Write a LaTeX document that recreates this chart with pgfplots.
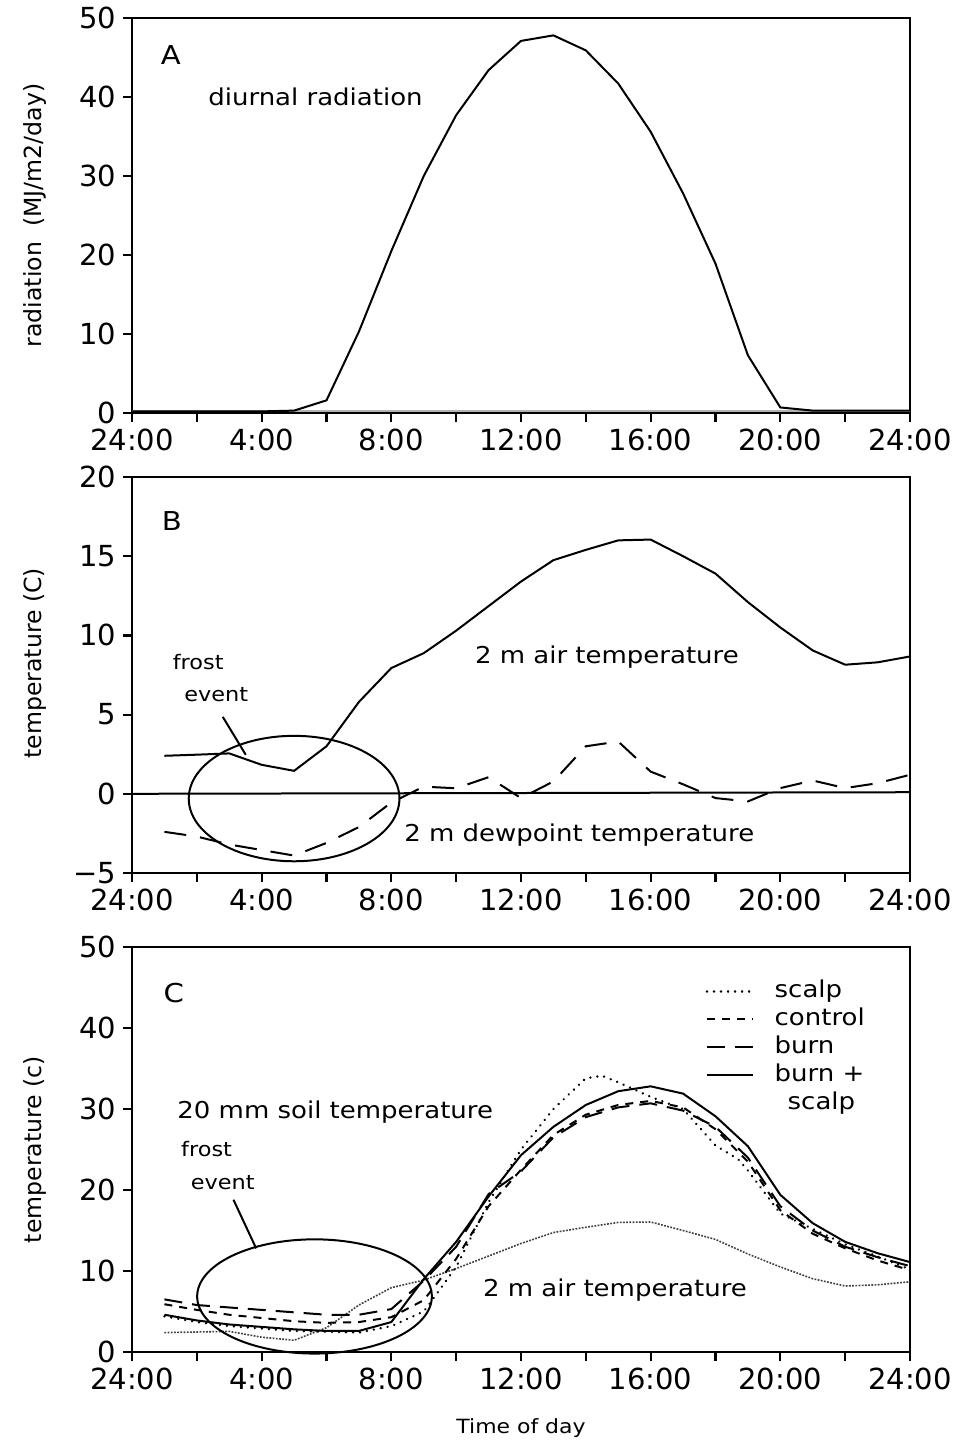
\documentclass[border=0pt]{standalone}
\usepackage{fontspec}
\setmainfont{DejaVu Sans}
\newfontfamily\lab[FakeStretch=1.12]{DejaVu Sans}
\usepackage{pgfplots}
\pgfplotsset{compat=1.18}
\newcommand\lf[1]{\lab\fontsize{#1}{#1}\selectfont}
\begin{document}
\begin{tikzpicture}
\useasboundingbox (-66pt,0pt) rectangle (410pt,-721.5pt);
\pgfplotsset{
 every axis/.append style={
  scale only axis, width=389pt,
  axis line style={line width=1.2pt},
  tick align=outside, tick pos=left,
  major tick length=4.5pt, minor tick length=4.5pt,
  every tick/.style={line width=1.1pt, black},
  xmin=0, xmax=24,
  xtick={0,4,...,24}, minor xtick={2,6,...,22},
  xticklabels={24:00,4:00,8:00,12:00,16:00,20:00,24:00},
  tick label style={font=\fontsize{14.5}{16}\selectfont},
  /pgf/number format/assume math mode=true,
  every axis y label/.style={at={(axis description cs:0,0.5)}, xshift=-48.5pt, rotate=90, anchor=center, font=\fontsize{11.8}{14}\selectfont},
  clip=false,
 },
}
% ---------------- A
\begin{axis}[anchor=north west, at={(0pt,-9pt)}, height=197.5pt,
  ymin=0, ymax=50, ytick={0,10,...,50},
  ylabel={radiation\ \ (MJ/m2/day)}]
\addplot[gray!60, line width=0.8pt] coordinates {(0,0.25) (24,0.25)};
\addplot[black, line width=1pt] coordinates {
(0,0.2) (1,0.2) (2,0.2) (3,0.2) (4,0.2) (5,0.3) (6,1.6) (7,10.3) (8,20.5) (9,30) (10,37.7) (11,43.4) (12,47.1) (13,47.8) (14,45.9) (15,41.7) (16,35.6) (17,27.8) (18,18.9) (19,7.3) (20,0.7) (21,0.3) (22,0.3) (23,0.3) (24,0.3)};
\node[font=\lf{13}] at (axis cs:1.2,45.3) {A};
\node[font=\lf{11.6}] at (axis cs:5.66,40) {diurnal radiation};
\end{axis}
% ---------------- B
\begin{axis}[anchor=north west, at={(0pt,-238.5pt)}, height=198pt,
  ymin=-5, ymax=20, ytick={-5,0,...,20}, yticklabels={−5,0,5,10,15,20},
  ylabel={temperature (C)},
  every axis y label/.append style={at={(axis description cs:0,0.53)}}]
\addplot[black, line width=1pt] coordinates {(0,0) (24,0.1)};
\addplot[black, line width=1pt] coordinates {
(1,2.4) (2,2.47) (3,2.55) (4,1.83) (5,1.45) (6,3.0) (7,5.8) (8,7.94) (9,8.88) (10,10.3) (11,11.85) (12,13.4) (13,14.75) (14,15.4) (15,16.0) (16,16.05) (17,15.0) (18,13.9) (19,12.1) (20,10.5) (21,9.05) (22,8.15) (23,8.3) (24,8.67)};
\addplot[black, line width=1pt, dash pattern=on 11pt off 7pt] coordinates {
(1,-2.4) (2,-2.7) (3,-3.2) (4,-3.55) (5,-3.9) (6,-3.1) (7,-2.1) (8,-0.55) (9,0.45) (10,0.35) (11,1.05) (12,-0.27) (13,0.78) (14,3.0) (15,3.3) (16,1.4) (17,0.6) (18,-0.27) (19,-0.48) (20,0.36) (21,0.84) (22,0.36) (23,0.67) (24,1.2)};
\draw[line width=1pt] (axis cs:5,-0.3) ellipse [x radius=3.25, y radius=3.96];
\draw[line width=1pt] (axis cs:2.8,4.86) -- (axis cs:3.51,2.46);
\node[font=\lf{13}] at (axis cs:1.23,17.2) {B};
\node[font=\lf{10}] at (axis cs:2.04,8.33) {frost};
\node[font=\lf{10}] at (axis cs:2.6,6.25) {event};
\node[font=\lf{11.6}] at (axis cs:14.65,8.65) {2 m air temperature};
\node[font=\lf{11.6}] at (axis cs:13.8,-2.6) {2 m dewpoint temperature};
\end{axis}
% ---------------- C
\begin{axis}[anchor=north west, at={(0pt,-473.5pt)}, height=202.5pt,
  ymin=0, ymax=50, ytick={0,10,...,50},
  ylabel={temperature (c)},
  xlabel={Time of day},
  every axis x label/.style={at={(axis description cs:0.5,0)}, yshift=-38pt, anchor=center, font=\lf{9.8}},
  legend style={draw=none, fill=none, at={(axis cs:17.5,46.8)}, anchor=north west,
    font=\lf{11.6}, nodes={inner sep=1.2pt, text height=8.8pt, text depth=2.8pt},
    /tikz/every odd column/.append style={column sep=9pt}},
  legend cell align=left,
  legend image code/.code={\draw[#1] (0pt,0pt) -- (23pt,0pt);}]
\addplot[black!75, line width=0.8pt, dash pattern=on 0.9pt off 0.7pt, forget plot] coordinates {
(1,2.4) (2,2.47) (3,2.55) (4,1.83) (5,1.45) (6,3.0) (7,5.8) (8,7.94) (9,8.88) (10,10.3) (11,11.85) (12,13.4) (13,14.75) (14,15.4) (15,16.0) (16,16.05) (17,15.0) (18,13.9) (19,12.1) (20,10.5) (21,9.05) (22,8.15) (23,8.3) (24,8.67)};
\addplot[black, line width=1.3pt, line cap=round, dash pattern=on 0.01pt off 3.5pt] coordinates {
(1,4.4) (2,3.7) (3,3.2) (4,2.9) (5,2.6) (6,2.5) (7,2.4) (8,3.2) (9,5.0) (10,10.5) (11,18.5) (12,25.0) (13,30.0) (14,33.8) (14.5,34.1) (15,33.3) (16,31.5) (17,30.0) (18,25.5) (18.7,23.8) (19,22.4) (20,17.1) (21,15.2) (22,13.3) (23,11.8) (24,10.2)};
\addlegendentry{scalp}
\addplot[black, line width=1pt, dash pattern=on 4pt off 3.5pt] coordinates {
(1,5.9) (2,5.2) (3,4.6) (4,4.2) (5,3.8) (6,3.6) (7,3.7) (8,4.3) (9,6.4) (10,11.5) (11,18) (12,22.5) (13,26.8) (14,29.3) (15,30.5) (16,31.0) (17,30.2) (18,27.5) (19,23.5) (20,17.5) (21,14.6) (22,12.8) (23,11.3) (24,10.1)};
\addlegendentry{control}
\addplot[black, line width=1pt, dash pattern=on 9pt off 5pt] coordinates {
(1,6.5) (2,5.8) (3,5.5) (4,5.2) (5,4.9) (6,4.6) (7,4.6) (8,5.3) (9,8.8) (10,13.0) (11,19.5) (12,22.3) (13,26.5) (14,29.0) (15,30.2) (16,30.7) (17,29.8) (18,27.8) (19,24.0) (20,18.0) (21,15.0) (22,13.0) (23,11.7) (24,10.6)};
\addlegendentry{burn}
\addplot[black, line width=1pt] coordinates {
(1,4.6) (2,3.9) (3,3.4) (4,3.1) (5,2.8) (6,2.6) (7,2.6) (8,3.7) (9,9.0) (10,13.6) (11,19.2) (12,24.3) (13,27.8) (14,30.5) (15,32.2) (16,32.8) (17,31.9) (18,29.1) (19,25.4) (20,19.4) (21,15.9) (22,13.6) (23,12.2) (24,11.1)};
\addlegendentry{burn +}
\addlegendimage{empty legend}
\addlegendentry{\hspace*{6.5pt}scalp}
\draw[line width=1pt] (axis cs:5.63,6.86) ellipse [x radius=3.62, y radius=7.05];
\draw[line width=1pt] (axis cs:3.13,18.8) -- (axis cs:3.83,12.8);
\node[font=\lf{13}] at (axis cs:1.29,44.3) {C};
\node[font=\lf{11.6}] at (axis cs:6.27,29.6) {20 mm soil temperature};
\node[font=\lf{10}] at (axis cs:2.3,25) {frost};
\node[font=\lf{10}] at (axis cs:2.8,20.9) {event};
\node[font=\lf{11.6}] at (axis cs:14.9,7.6) {2 m air temperature};
\end{axis}
\end{tikzpicture}
\end{document}
